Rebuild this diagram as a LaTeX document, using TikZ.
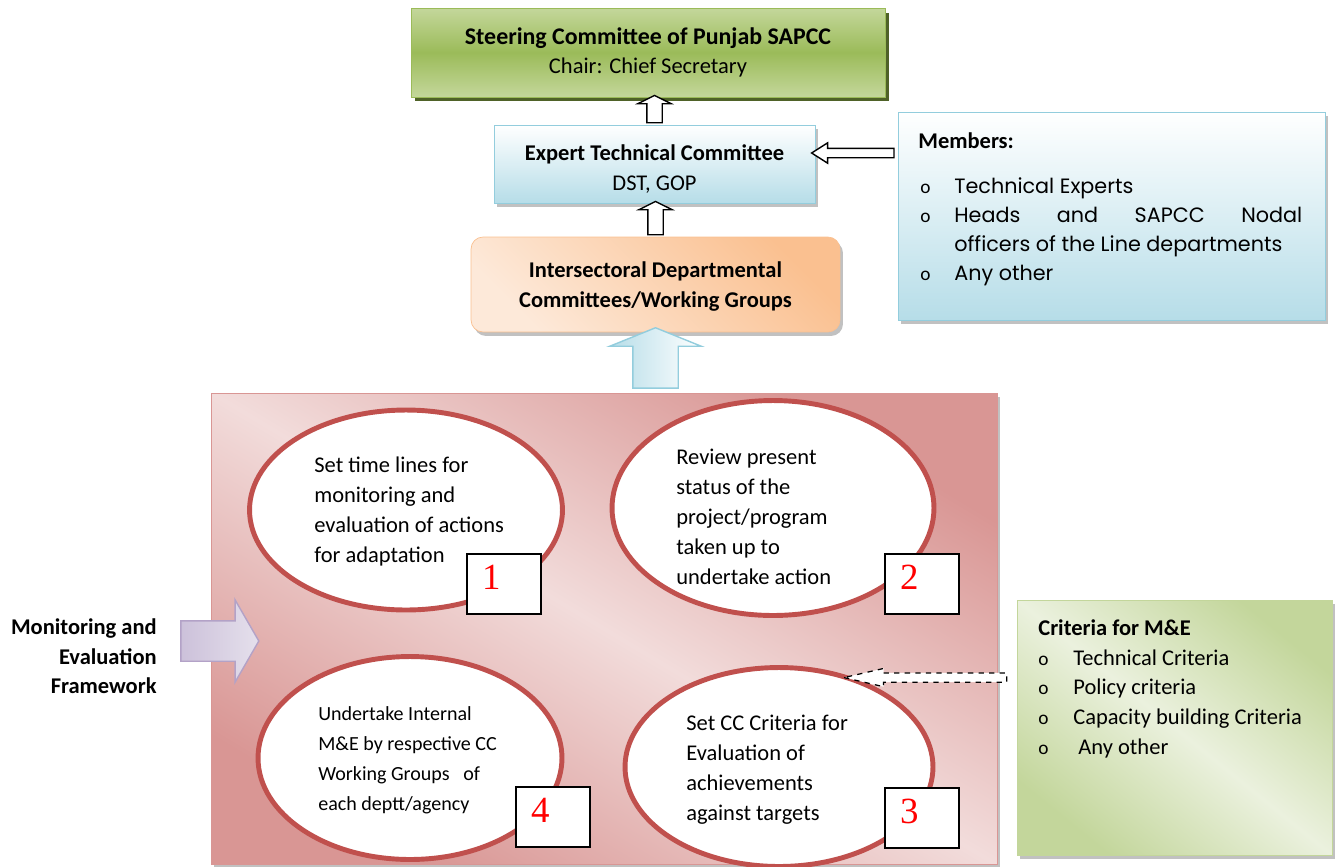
\documentclass[tikz,border=0pt]{standalone}
\usepackage{fontspec}
\setmainfont{Carlito}
\newfontfamily\gothicfont{Poppins}
\newfontfamily\numfont{Liberation Serif}
\usetikzlibrary{shapes.geometric,shapes.arrows,shadows,calc}

\definecolor{steergreen}{HTML}{9BBB59}
\definecolor{steerlight}{HTML}{C4D79B}
\definecolor{steershadow}{HTML}{4F6228}
\definecolor{expertblue}{HTML}{B6DDE8}
\definecolor{expertline}{HTML}{93CDDD}
\definecolor{interdark}{HTML}{FAC090}
\definecolor{interlight}{HTML}{FDE9D9}
\definecolor{pinkdark}{HTML}{D99694}
\definecolor{pinklight}{HTML}{F2DCDB}
\definecolor{ringred}{HTML}{C0504D}
\definecolor{lavdark}{HTML}{CCC1DA}
\definecolor{lavlight}{HTML}{E5E0EC}
\definecolor{lavline}{HTML}{B3A2C7}
\definecolor{critlight}{HTML}{EBF1DE}
\definecolor{critdark}{HTML}{C3D69B}

% bullets of the two lists
\newcommand{\mbul}[1]{\makebox[0.72cm][l]{\hspace*{0.04cm}\fontsize{11}{11}\selectfont o}{\gothicfont #1}}
\newcommand{\cbul}[1]{\makebox[0.7cm][l]{\fontsize{11}{11}\selectfont o}#1}
% block arrow: style, tail, tip
\newcommand{\blockarrow}[3]{%
  \path let \p1=(#2), \p2=(#3),
    \n1={veclen(\x2-\x1,\y2-\y1)}, \n2={atan2(\y2-\y1,\x2-\x1)} in
    node[#1, minimum height=\n1, rotate=\n2] at ($(\p1)!.5!(\p2)$) {};}

\begin{document}
\begin{tikzpicture}[x=0.02cm, y=-0.02cm,
    txt/.style={inner sep=0pt, align=left, font=\fontsize{12.8}{17}\selectfont},
    box/.style={draw, inner sep=0pt, align=center, font=\fontsize{12.8}{16.5}\selectfont},
    ring/.style={ellipse, draw=ringred, line width=2.8pt, fill=white, inner sep=0pt},
    numbox/.style={draw, line width=0.8pt, fill=white, minimum width=1.48cm,
      minimum height=1.2cm, inner xsep=0pt, text width=0.88cm, align=left,
      text depth=0.28cm, text=red, font=\numfont\fontsize{21}{21}\selectfont},
    grayshadow/.style={drop shadow={fill=gray!70, opacity=.7,
      shadow xshift=.06cm, shadow yshift=-.08cm}},
    hollow/.style={single arrow, draw, fill=white, line width=0.8pt,
      inner xsep=0pt, inner ysep=.14cm, single arrow head extend=.18cm,
      single arrow tip angle=127},
    thinhollow/.style={hollow, inner ysep=.08cm, single arrow head extend=.11cm,
      single arrow tip angle=65},
    bigarrow/.style={single arrow, draw=expertline, line width=0.8pt,
      left color=expertblue, right color=white, inner xsep=0pt, inner ysep=.44cm,
      single arrow head extend=.46cm, single arrow tip angle=136},
    lavarrow/.style={single arrow, draw=lavline, line width=0.8pt,
      left color=lavdark, right color=lavlight, inner xsep=0pt, inner ysep=.39cm,
      single arrow head extend=.42cm, single arrow tip angle=120},
    dasharrow/.style={single arrow, draw, dashed, fill=white, line width=0.7pt,
      inner xsep=0pt, inner ysep=.08cm, single arrow head extend=.09cm,
      single arrow tip angle=26}]
  \useasboundingbox (0,0) rectangle (1335,866);

  % committees at the top
  \node[box, draw=steergreen, top color=steerlight, bottom color=steerlight,
    middle color=steergreen, minimum width=9.48cm, minimum height=1.78cm,
    drop shadow={fill=steershadow, opacity=1, shadow xshift=.08cm, shadow yshift=-.09cm}]
    (steer) at (648,52.5) {{\fontsize{13.6}{16.5}\selectfont\bfseries Steering Committee of Punjab SAPCC}\\Chair: Chief Secretary};
  \node[box, draw=expertline, top color=white, bottom color=expertblue,
    minimum width=6.42cm, minimum height=1.56cm, grayshadow]
    (expert) at (654.5,164) {\raisebox{-0.1cm}[\height][\depth]{\shortstack{\textbf{Expert Technical Committee}\\[0.13cm]DST, GOP}}};
  \node[box, draw=interdark, rounded corners=0.24cm, top color=interdark,
    bottom color=interlight, shading angle=-45, minimum width=7.38cm,
    minimum height=1.9cm, grayshadow]
    (inter) at (655.5,284.5) {\raisebox{-0.04cm}[\height][\depth]{\shortstack{\textbf{Intersectoral Departmental}\\[0.12cm]\textbf{Committees/Working Groups}}}};
  \node[box, draw=expertline, top color=white, bottom color=expertblue,
    minimum width=8.54cm, minimum height=4.16cm, grayshadow] (members) at (1111.5,216) {};
  \node[txt, anchor=north west, font=\fontsize{11.8}{16.6}\selectfont] (memtxt) at (918,132)
    {{\fontsize{12.8}{16.6}\selectfont\bfseries Members:}\\[9pt]
     \mbul{Technical Experts}\\
     \mbul{\makebox[6.96cm][s]{Heads and SAPCC Nodal}}\\
     \hspace*{0.72cm}{\gothicfont officers of the Line departments}\\
     \mbul{Any other}};

  % monitoring and evaluation frame
  \node[draw=pinkdark, top color=pinkdark, bottom color=pinkdark, middle color=pinklight,
    shading angle=-31, minimum width=15.72cm, minimum height=9.42cm, grayshadow]
    (mne) at (604,628.5) {};
  \node[ring, minimum width=6.26cm, minimum height=4cm] (e1) at (406,510) {};
  \node[ring, minimum width=6.44cm, minimum height=4.3cm] (e2) at (773,508) {};
  \node[ring, minimum width=6.16cm, minimum height=3.98cm] (e3) at (779,767) {};
  \node[ring, minimum width=6.08cm, minimum height=4.06cm] (e4) at (410,758) {};
  \node[txt, anchor=north west] (t1) at (314,457)
    {Set time lines for\\monitoring and\\evaluation of actions\\for adaptation};
  \node[txt, anchor=north west] (t2) at (676,449)
    {Review present\\status of the\\project/program\\taken up to\\undertake action};
  \node[txt, anchor=north west] (t3) at (686,715)
    {Set CC Criteria for\\Evaluation of\\achievements\\against targets};
  \node[txt, anchor=north west, font=\fontsize{11.4}{17.2}\selectfont] (t4) at (318,706)
    {Undertake Internal\\M\&E by respective CC\\Working Groups\ \ \ of\\each deptt/agency};
  \node[numbox] (n1) at (504,584) {1};
  \node[numbox] (n2) at (922,584) {2};
  \node[numbox] (n3) at (922,818) {3};
  \node[numbox] (n4) at (553,817) {4};

  % criteria box
  \node[draw=critdark, top color=critdark, bottom color=critdark, middle color=critlight,
    shading angle=-39, minimum width=6.3cm, minimum height=5.1cm, grayshadow]
    (crit) at (1174.5,727.5) {};
  \node[txt, anchor=north west] (crittxt) at (1038,619)
    {\textbf{Criteria for M\&E}\\
     \cbul{Technical Criteria}\\
     \cbul{Policy criteria}\\
     \cbul{Capacity building Criteria}\\
     \cbul{\ Any other}};

  % label on the left
  \node[txt, align=right, anchor=north east, font=\bfseries\fontsize{12.8}{17}\selectfont]
    (lbl) at (157,618) {Monitoring and\\Evaluation\\Framework};

  % arrows
  \coordinate (m3) at ($(expert.east)+(0,-11)$);
  \coordinate (ptail) at (175,641);
  \coordinate (ptip) at (253,641);
  \blockarrow{hollow}{expert.north}{expert.north|-steer.south}
  \blockarrow{hollow}{inter.north}{inter.north|-expert.south}
  \blockarrow{thinhollow}{members.west|-m3}{m3}
  \blockarrow{bigarrow}{inter.south|-mne.north}{inter.south}
  \blockarrow{lavarrow}{ptail}{ptip}
  \blockarrow{dasharrow}{crit.west|-e3.50}{e3.50}
\end{tikzpicture}
\end{document}
